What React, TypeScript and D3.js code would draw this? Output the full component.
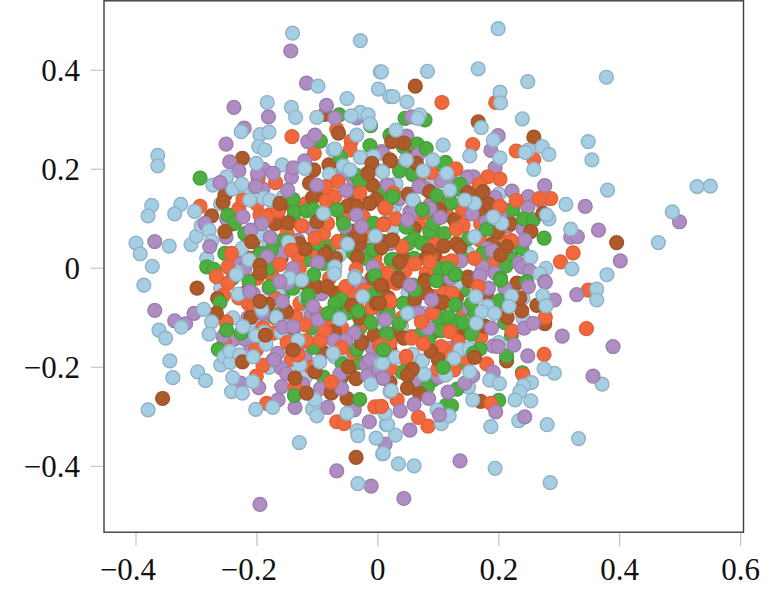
import React from "react";
import * as d3 from "d3";

const xTicks = [-0.4, -0.2, 0, 0.2, 0.4, 0.6];
const yTicks = [-0.4, -0.2, 0, 0.2, 0.4];

const blue: number[][] = [[-0.141,0.475],[-0.029,0.460],[0.004,0.397],[0.001,0.362],[-0.099,0.368],[-0.051,0.343],[-0.183,0.335],[-0.143,0.325],[-0.136,0.305],[-0.101,0.305],[-0.029,0.315],[-0.044,0.308],[-0.016,0.310],[-0.226,0.276],[-0.195,0.270],[-0.180,0.275],[-0.197,0.246],[-0.187,0.239],[-0.364,0.228],[-0.364,0.207],[-0.201,0.212],[-0.158,0.209],[-0.250,0.185],[-0.273,0.168],[-0.240,0.160],[-0.225,0.170],[-0.374,0.127],[-0.380,0.106],[-0.326,0.129],[-0.336,0.110],[-0.303,0.115],[-0.400,0.051],[-0.393,0.029],[-0.345,0.045],[-0.309,0.048],[-0.300,0.065],[-0.292,0.086],[-0.279,0.077],[-0.275,0.055],[-0.283,0.020],[-0.373,0.004],[-0.192,0.069],[-0.189,0.142],[-0.212,0.138],[-0.179,0.138],[-0.213,0.017],[-0.234,-0.007],[-0.148,0.053],[-0.072,-0.007],[-0.071,0.003],[-0.050,0.049],[-0.004,0.065],[0.007,0.197],[-0.007,0.226],[-0.029,0.224],[-0.071,0.241],[-0.121,0.202],[-0.057,0.207],[-0.046,0.199],[-0.035,0.269],[-0.013,0.292],[0.020,0.347],[-0.090,0.111],[-0.038,-0.017],
[0.199,0.484],[0.082,0.398],[0.006,0.397],[0.166,0.403],[0.248,0.377],[0.378,0.386],[0.025,0.347],[0.048,0.336],[0.069,0.310],[0.066,0.303],[0.202,0.356],[0.203,0.334],[0.171,0.284],[0.239,0.302],[0.030,0.279],[0.191,0.259],[0.108,0.249],[0.152,0.227],[0.202,0.223],[0.249,0.239],[0.244,0.234],[0.272,0.246],[0.283,0.230],[0.348,0.256],[0.354,0.219],[0.258,0.200],[0.380,0.158],[0.311,0.129],[0.487,0.114],[0.464,0.052],[0.319,0.079],[0.283,0.100],[0.279,0.108],[0.253,0.022],[0.278,0.000],[0.268,-0.011],[0.321,-0.001],[0.379,-0.013],[0.205,0.091],[0.191,0.104],[0.160,0.064],[0.160,0.131],[0.119,0.158],[0.144,0.138],[0.114,0.192],[0.091,0.219],[0.075,0.197],[0.047,0.219],[0.008,0.195],[0.058,0.138],[0.528,0.165],[0.550,0.166],
[-0.387,-0.034],[-0.362,-0.125],[-0.351,-0.141],[-0.325,-0.119],[-0.344,-0.187],[-0.339,-0.221],[-0.298,-0.209],[-0.285,-0.227],[-0.380,-0.286],[-0.288,-0.083],[-0.275,-0.108],[-0.279,-0.133],[-0.260,-0.195],[-0.254,-0.179],[-0.244,-0.190],[-0.245,-0.168],[-0.228,-0.175],[-0.240,-0.221],[-0.242,-0.249],[-0.224,-0.252],[-0.207,-0.229],[-0.202,-0.285],[-0.174,-0.281],[-0.130,-0.352],[-0.108,-0.284],[-0.101,-0.298],[-0.104,-0.266],[-0.051,-0.293],[-0.034,-0.328],[-0.033,-0.338],[-0.033,-0.435],[-0.003,-0.343],[0.008,-0.375],[0.012,-0.293],[0.014,-0.316],[-0.129,-0.195],[-0.096,-0.189],[-0.188,-0.129],[-0.202,-0.136],[-0.185,-0.153],[-0.223,-0.118],[-0.206,-0.179],[-0.132,-0.145],[-0.168,-0.099],[-0.231,-0.052],[-0.234,-0.013],[-0.146,-0.020],[-0.126,-0.024],[-0.072,-0.011],[-0.038,-0.020],[-0.063,-0.102],[-0.192,-0.083],[-0.074,-0.172],[-0.011,-0.234],[0.005,-0.192],[-0.025,-0.057],[0.020,-0.249],
[0.362,-0.042],[0.362,-0.064],[0.292,-0.212],[0.275,-0.203],[0.371,-0.234],[0.253,-0.268],[0.254,-0.231],[0.241,-0.237],[0.235,-0.249],[0.227,-0.266],[0.233,-0.308],[0.280,-0.316],[0.187,-0.320],[0.332,-0.344],[0.194,-0.404],[0.285,-0.433],[0.157,-0.266],[0.034,-0.395],[0.060,-0.399],[0.009,-0.374],[0.029,-0.337],[0.016,-0.316],[0.012,-0.293],[0.022,-0.247],[0.105,-0.314],[0.118,-0.298],[0.098,-0.286],[0.077,-0.214],[0.058,-0.174],[0.074,-0.187],[0.029,-0.180],[0.008,-0.192],[0.136,-0.164],[0.151,-0.162],[0.126,-0.182],[0.112,-0.216],[0.185,-0.226],[0.201,-0.233],[0.152,-0.209],[0.273,-0.055],[0.278,-0.076],[0.221,-0.056],[0.217,-0.077],[0.181,-0.077],[0.172,-0.088],[0.193,-0.091],[0.162,-0.057],[0.163,-0.111],[0.049,-0.091]];

const purple: number[][] = [[-0.144,0.439],[-0.118,0.374],[-0.238,0.325],[-0.181,0.306],[-0.085,0.329],[-0.071,0.304],[-0.035,0.304],[-0.221,0.283],[-0.251,0.251],[-0.116,0.256],[-0.104,0.269],[-0.245,0.215],[-0.230,0.197],[-0.189,0.200],[-0.199,0.191],[-0.173,0.192],[-0.143,0.184],[-0.140,0.203],[-0.121,0.217],[-0.261,0.173],[-0.202,0.165],[-0.149,0.158],[-0.101,0.168],[-0.052,0.157],[0.009,0.232],[-0.223,0.104],[-0.286,0.091],[-0.369,0.054],[-0.251,0.063],[-0.278,0.044],[-0.192,0.090],[-0.210,0.077],[-0.178,0.063],[-0.183,0.024],[-0.140,0.000],[-0.099,0.012],[-0.035,0.108],[-0.055,0.084],[-0.027,0.084],[-0.008,0.003],
[0.056,0.306],[0.048,0.267],[0.199,0.268],[0.187,0.238],[0.194,0.203],[0.067,0.230],[0.036,0.205],[0.105,0.177],[0.158,0.185],[0.147,0.182],[0.068,0.166],[0.017,0.168],[0.276,0.167],[0.222,0.156],[0.194,0.143],[0.249,0.145],[0.270,0.135],[0.248,0.123],[0.211,0.118],[0.156,0.110],[0.179,0.094],[0.343,0.125],[0.365,0.077],[0.499,0.094],[0.319,0.063],[0.330,0.064],[0.401,0.015],[0.243,0.057],[0.234,0.010],[0.238,0.003],[0.251,-0.005],[0.276,-0.027],[0.189,0.036],[0.137,0.015],[0.169,-0.013],[0.173,0.003],[0.194,-0.010],[0.103,0.103],[0.056,0.111],[0.049,0.098],[0.086,0.121],
[-0.369,-0.085],[-0.336,-0.106],[-0.318,-0.112],[-0.304,-0.091],[-0.237,-0.143],[-0.220,-0.143],[-0.256,-0.138],[-0.227,-0.232],[-0.197,-0.241],[-0.166,-0.172],[-0.160,-0.201],[-0.151,-0.213],[-0.159,-0.239],[-0.124,-0.234],[-0.095,-0.243],[-0.165,-0.266],[-0.137,-0.281],[-0.083,-0.281],[-0.039,-0.286],[-0.014,-0.310],[-0.068,-0.409],[-0.011,-0.440],[-0.195,-0.477],[0.012,-0.355],[-0.063,-0.214],[-0.060,-0.243],[-0.019,-0.195],[-0.017,-0.217],[-0.013,-0.185],[0.001,-0.205],[0.008,-0.222],[-0.039,-0.131],[-0.072,-0.146],[-0.053,-0.146],[-0.099,-0.104],[-0.157,-0.119],[-0.158,-0.067],[-0.190,-0.091],[-0.212,-0.047],[-0.162,-0.027],[-0.107,-0.077],[-0.140,-0.118],[-0.171,-0.185],
[0.329,-0.053],[0.292,-0.064],[0.277,-0.028],[0.249,-0.037],[0.305,-0.137],[0.389,-0.158],[0.356,-0.218],[0.243,-0.300],[0.248,-0.177],[0.225,-0.155],[0.191,-0.157],[0.199,-0.158],[0.191,-0.210],[0.157,-0.217],[0.144,-0.232],[0.116,-0.250],[0.084,-0.263],[0.060,-0.275],[0.037,-0.288],[0.053,-0.327],[0.136,-0.389],[0.043,-0.465],[0.195,-0.290],[0.102,-0.296],[0.083,-0.121],[0.067,-0.090],[0.009,-0.222],[0.242,-0.121],[0.257,-0.111],[0.188,-0.121],[0.169,-0.015],[0.183,-0.040],[0.089,-0.064],[0.053,-0.034],[0.012,-0.104]];

const orange: number[][] = [[-0.142,0.266],[-0.068,0.281],[-0.044,0.257],[-0.046,0.239],[-0.105,0.232],[-0.169,0.173],[-0.198,0.182],[-0.085,0.165],[-0.066,0.175],[-0.030,0.152],[-0.085,0.136],[-0.071,0.145],[-0.223,0.138],[-0.294,0.125],[-0.165,0.116],[-0.184,0.104],[-0.126,0.086],[-0.083,0.091],[-0.104,0.061],[0.012,0.121],[0.009,0.088],[-0.066,0.054],[-0.242,0.030],[-0.162,0.008],[-0.143,0.037],[-0.267,-0.017],[-0.248,0.003],[-0.036,-0.002],[0.014,-0.013],
[0.106,0.335],[0.195,0.335],[0.157,0.250],[0.229,0.237],[0.258,0.220],[0.202,0.180],[0.182,0.185],[0.168,0.170],[0.129,0.201],[0.088,0.194],[0.026,0.152],[0.013,0.123],[0.079,0.112],[0.141,0.086],[0.130,0.079],[0.040,0.044],[0.286,0.141],[0.267,0.141],[0.229,0.137],[0.202,0.125],[0.323,0.031],[0.302,0.013],[0.221,0.056],[0.122,0.015],[0.061,0.009],[0.086,0.013],[0.017,-0.010],[0.160,0.020],
[-0.248,-0.030],[-0.255,-0.054],[-0.251,-0.108],[-0.254,-0.150],[-0.214,-0.072],[-0.205,-0.077],[-0.202,-0.165],[-0.190,-0.196],[-0.201,-0.218],[-0.184,-0.273],[-0.068,-0.310],[-0.056,-0.314],[0.001,-0.280],[-0.005,-0.280],[-0.137,-0.240],[-0.121,-0.114],[-0.119,-0.146],[-0.095,-0.145],[-0.077,-0.230],[-0.136,-0.098],[-0.132,-0.175],[-0.088,-0.125],[-0.053,-0.037],[-0.022,-0.045],[0.017,-0.202],[0.003,-0.157],[-0.060,-0.160],
[0.348,-0.044],[0.345,-0.122],[0.275,-0.174],[0.180,-0.193],[0.240,-0.215],[0.187,-0.273],[0.222,-0.127],[0.277,-0.099],[0.210,-0.091],[0.126,-0.205],[0.099,-0.204],[0.021,-0.202],[0.032,-0.266],[0.067,-0.301],[0.083,-0.319],[0.006,-0.279],[0.123,-0.050],[0.133,-0.148],[0.105,-0.158],[0.147,-0.184],[0.047,-0.178],[0.020,-0.067],[0.119,-0.128],[0.072,-0.108],[0.006,-0.155],[0.166,-0.037],[0.056,-0.141],[0.075,-0.152]];

const green: number[][] = [[-0.294,0.182],[-0.064,0.310],[-0.012,0.288],[-0.013,0.248],[-0.095,0.257],[-0.062,0.224],[-0.037,0.189],[-0.030,0.176],[0.020,0.269],[-0.140,0.139],[-0.138,0.114],[-0.118,0.116],[-0.107,0.119],[-0.248,0.108],[-0.237,0.092],[-0.068,0.118],[-0.007,0.091],[-0.008,0.037],[0.022,0.017],[-0.151,0.057],[-0.176,0.037],[-0.194,0.030],[-0.253,0.030],[-0.283,0.003],[-0.271,-0.002],[-0.213,-0.027],[-0.106,-0.013],[-0.057,0.091],
[0.045,0.303],[0.078,0.300],[0.025,0.269],[0.065,0.251],[0.080,0.242],[0.042,0.246],[0.036,0.197],[0.058,0.192],[0.105,0.209],[0.112,0.214],[0.129,0.160],[0.136,0.170],[0.098,0.147],[0.121,0.132],[0.223,0.119],[0.241,0.100],[0.257,0.098],[0.275,0.061],[0.238,0.040],[0.212,0.005],[0.173,0.030],[0.072,0.051],[0.086,0.074],[0.047,0.083],[0.180,0.079],[0.092,0.091],[0.025,0.018],[0.032,0.008],[0.116,0.000],[0.129,-0.013],[0.203,-0.020],[0.246,-0.027],[0.025,0.145],[0.074,0.118],
[-0.264,-0.164],[-0.261,-0.069],[-0.179,-0.037],[-0.226,-0.131],[-0.250,-0.125],[-0.115,-0.065],[-0.115,-0.054],[-0.060,-0.063],[-0.071,-0.071],[-0.035,-0.164],[-0.107,-0.160],[-0.059,-0.193],[-0.030,-0.265],[-0.138,-0.257],[-0.011,-0.110],[-0.033,-0.087],[-0.068,-0.094],[0.014,-0.091],[0.014,-0.131],[-0.005,-0.015],[-0.011,-0.056],[-0.082,-0.091],
[0.239,-0.211],[0.200,-0.267],[0.113,-0.277],[0.122,-0.278],[0.131,-0.244],[0.082,-0.240],[0.213,-0.177],[0.221,-0.135],[0.155,-0.133],[0.127,-0.106],[0.116,-0.098],[0.141,-0.110],[0.104,-0.126],[0.083,-0.144],[0.069,-0.135],[0.035,-0.112],[0.017,-0.090],[0.015,-0.133],[0.042,-0.071],[0.061,-0.044],[0.097,-0.025],[0.128,-0.013],[0.128,-0.074],[0.155,-0.071],[0.202,-0.065],[0.203,-0.024],[0.169,-0.163],[0.158,-0.172],[0.108,-0.200],[0.009,-0.165]];

const brown: number[][] = [[-0.224,0.222],[-0.088,0.311],[-0.065,0.273],[-0.106,0.199],[-0.009,0.168],[-0.253,0.148],[-0.256,0.133],[-0.275,0.106],[-0.108,0.143],[-0.003,0.139],[-0.014,0.131],[-0.050,0.126],[-0.035,0.125],[-0.148,0.092],[-0.040,0.075],[-0.030,0.064],[0.010,0.054],[0.006,0.042],[-0.034,0.022],[-0.087,0.028],[-0.120,0.039],[-0.209,0.054],[-0.195,0.006],[-0.253,0.074],[-0.195,-0.010],[-0.162,0.131],[-0.101,0.094],[-0.010,0.212],[0.020,0.219],[-0.016,0.192],
[0.062,0.368],[0.166,0.296],[0.258,0.265],[0.021,0.217],[0.043,0.253],[0.023,0.256],[0.086,0.155],[0.064,0.212],[0.149,0.153],[0.183,0.130],[0.102,0.118],[0.174,0.155],[0.197,0.073],[0.253,0.074],[0.273,0.111],[0.395,0.052],[0.136,0.042],[0.109,0.045],[0.084,0.036],[0.080,0.020],[0.213,0.044],[0.203,0.027],[0.023,0.057],[0.036,0.013],[0.034,-0.020],[0.078,-0.024],[0.149,-0.018],
[-0.299,-0.040],[-0.265,-0.061],[-0.267,-0.091],[-0.356,-0.263],[-0.210,-0.099],[-0.181,-0.073],[-0.224,-0.189],[-0.104,-0.209],[-0.036,-0.223],[-0.051,-0.263],[-0.036,-0.382],[-0.077,-0.250],[-0.072,-0.128],[-0.006,-0.135],[-0.043,-0.075],[-0.084,-0.037],[-0.151,-0.088],[-0.027,-0.151],[-0.049,-0.199],[-0.140,-0.165],[-0.137,-0.222],[-0.118,-0.252],[-0.002,-0.071],[-0.186,-0.135],[-0.195,-0.067],
[0.213,-0.187],[0.170,-0.269],[0.049,-0.242],[0.069,-0.253],[0.276,-0.112],[0.263,-0.075],[0.238,-0.086],[0.214,-0.099],[0.235,-0.060],[0.177,-0.117],[0.151,-0.025],[0.078,-0.028],[0.034,-0.025],[0.017,-0.059],[0.061,-0.062],[0.098,-0.067],[0.108,-0.069],[0.043,-0.141],[0.088,-0.168],[0.057,-0.204],[0.049,-0.216],[0.100,-0.184],[0.160,-0.180],[0.005,-0.034],[0.003,-0.071]];

// Points partly or fully hidden in the dense middle of the cloud: drawn first.
const blueUnder: number[][] = [[-0.088,0.114],[-0.156,0.145],[-0.063,0.027],[-0.049,0.050],[-0.009,0.064],[-0.071,0.007],[-0.074,0.239],[0.028,0.125],[0.022,0.111],[0.047,0.219],[0.075,0.195],[0.160,0.128],[0.122,0.158],[0.144,0.145],[0.025,0.081],[0.149,0.030],[0.191,0.108],[-0.115,-0.094],[-0.146,-0.017],[-0.206,-0.131],[-0.071,-0.179],[-0.190,-0.087],[-0.193,-0.111],[-0.110,-0.071],[-0.157,-0.101],[0.039,-0.118],[0.075,-0.091],[0.011,-0.199],[-0.238,0.090],[-0.225,0.040],[-0.165,-0.050],[-0.100,-0.130],[0.130,-0.030],[0.220,0.030],[0.240,-0.100],[0.150,-0.240],
[-0.26,0.13],[-0.22,0.15],[-0.18,0.05],[-0.08,0.19],[-0.02,0.19],[0.03,0.17],[0.09,0.17],[0.20,0.15],[0.22,0.05],[-0.26,-0.04],[-0.20,-0.07],[-0.24,-0.10],[-0.12,-0.06],[-0.16,-0.13],[-0.18,-0.20],[-0.12,-0.22],[-0.06,-0.18],[0.00,-0.12],[0.10,-0.16],[0.16,-0.17],[0.20,-0.15],[0.24,-0.06],[0.05,-0.05]];
const purpleUnder: number[][] = [[-0.193,0.091],[-0.179,0.061],[-0.132,0.057],[-0.035,0.108],[-0.019,0.037],[-0.041,0.037],[-0.184,0.027],[-0.101,0.010],[0.014,0.168],[0.050,0.098],[0.053,0.114],[0.036,0.141],[0.105,0.104],[0.086,0.128],[0.174,0.094],[0.149,0.185],[0.006,0.236],[0.188,0.030],[-0.162,-0.030],[-0.206,-0.051],[-0.140,-0.131],[-0.173,-0.185],[-0.093,-0.051],[-0.110,-0.094],[-0.129,-0.152],[-0.077,-0.091],[-0.046,-0.060],[-0.005,-0.185],[0.050,-0.034],[0.009,-0.091],[0.185,-0.071],[0.180,-0.044],[0.119,-0.162],[-0.230,0.010],[-0.215,-0.100],[0.215,0.085],[0.150,-0.080],[-0.060,0.190],
[-0.25,0.10],[-0.19,0.16],[-0.16,0.03],[-0.11,0.08],[-0.04,0.18],[0.02,0.05],[0.08,0.16],[0.12,0.18],[0.18,0.04],[0.24,0.08],[-0.22,0.00],[-0.18,-0.04],[-0.15,-0.03],[-0.08,-0.14],[-0.03,-0.03],[0.06,-0.07],[0.12,-0.02],[0.21,-0.04],[-0.21,-0.16],[-0.12,-0.18],[-0.01,-0.16],[0.06,-0.23],[0.10,-0.22]];
const orangeUnder: number[][] = [[-0.157,0.091],[-0.126,0.086],[-0.103,0.061],[-0.066,0.054],[-0.085,0.091],[-0.143,0.037],[-0.132,0.024],[-0.163,0.009],[-0.195,0.108],[-0.179,0.108],[-0.165,0.114],[-0.024,0.104],[-0.044,0.155],[-0.013,0.131],[0.011,0.125],[0.067,0.091],[0.114,0.108],[0.130,0.084],[0.091,0.088],[0.094,0.057],[0.111,0.010],[0.086,0.024],[0.169,0.057],[0.205,0.104],[0.042,0.024],[-0.052,-0.037],[-0.137,-0.098],[-0.088,-0.128],[-0.129,-0.071],[-0.143,-0.185],[-0.060,-0.151],[-0.085,-0.118],[-0.201,-0.165],[-0.173,-0.131],[-0.035,-0.071],[0.020,-0.071],[0.108,-0.125],[0.056,-0.138],[0.045,-0.182],[0.141,-0.084],[0.094,-0.057],[0.075,-0.111],[0.067,-0.044],[-0.215,0.060],[-0.230,-0.060],[-0.005,0.020],[0.070,0.170],[0.180,-0.120],[0.045,-0.005],[-0.020,-0.110],[-0.175,-0.015],[-0.100,0.030],[0.200,0.000],[0.150,0.110],
[-0.23,0.12],[-0.20,0.13],[-0.15,0.07],[-0.12,0.13],[-0.09,0.07],[-0.05,0.11],[-0.02,0.07],[0.03,0.10],[0.06,0.13],[0.10,0.14],[0.14,0.12],[0.17,0.09],[0.20,0.07],[-0.20,-0.02],[-0.17,-0.06],[-0.13,0.00],[-0.08,-0.02],[-0.04,-0.05],[0.00,0.00],[0.03,-0.03],[0.08,-0.01],[0.11,-0.05],[0.15,-0.02],[0.19,0.01],[-0.19,-0.12],[-0.15,-0.15],[-0.10,-0.09],[-0.06,-0.12],[-0.01,-0.08],[0.04,-0.10],[0.09,-0.09],[0.13,-0.11],[0.17,-0.14],[-0.11,-0.20],[-0.04,-0.17],[0.02,-0.15],[0.07,-0.19],[0.12,-0.17]];
const greenUnder: number[][] = [[-0.157,0.057],[-0.195,0.030],[-0.176,0.040],[-0.118,0.017],[-0.080,0.044],[-0.066,0.118],[0.058,0.189],[0.072,0.118],[0.003,0.152],[0.207,0.118],[-0.107,-0.158],[-0.157,-0.054],[-0.212,-0.027],[-0.019,-0.091],[-0.030,-0.121],[0.114,-0.024],[0.058,-0.034],[0.092,-0.225],[0.163,-0.165],[0.141,-0.044],[0.006,-0.125],[-0.040,0.030],[0.000,-0.040],[0.050,0.050],[0.150,0.060],[-0.030,-0.190],[0.100,0.000],[-0.140,-0.040],
[-0.22,0.07],[-0.14,0.10],[-0.10,0.05],[-0.05,0.07],[0.02,0.14],[0.06,0.06],[0.11,0.07],[0.15,0.15],[0.19,0.13],[-0.24,-0.02],[-0.18,0.00],[-0.09,0.01],[-0.02,0.02],[0.06,0.02],[0.14,0.02],[0.22,0.02],[-0.16,-0.09],[-0.11,-0.12],[-0.05,-0.09],[0.01,-0.06],[0.10,-0.10],[0.16,-0.09],[0.21,-0.11],[-0.09,-0.22],[0.04,-0.21],[0.14,-0.19]];
const brownUnder: number[][] = [[-0.159,0.128],[-0.099,0.092],[-0.057,0.101],[-0.016,0.192],[-0.081,0.209],[-0.113,0.172],[-0.088,0.034],[-0.121,0.039],[-0.206,0.054],[-0.195,0.007],[0,0.037],[0.058,0.226],[0.174,0.131],[0.169,0.155],[0.127,0.098],[0.094,0.027],[0.025,0.057],[-0.141,-0.168],[-0.115,-0.205],[-0.063,-0.077],[-0.209,-0.098],[-0.154,-0.084],[-0.027,-0.148],[-0.046,-0.199],[-0.101,-0.037],[-0.077,-0.252],[0.105,-0.024],[0.009,-0.037],[0.105,-0.071],[0.056,-0.205],[0.020,-0.165],[0.158,-0.178],[-0.040,0.150],[0.060,0.080],[0.130,-0.130],[-0.160,0.020],[0.190,0.050],
[-0.24,0.09],[-0.21,0.02],[-0.17,0.09],[-0.13,0.05],[-0.10,0.15],[-0.07,0.02],[-0.03,0.05],[0.01,0.09],[0.05,0.15],[0.09,0.11],[0.13,0.05],[0.17,0.12],[0.22,0.09],[-0.22,-0.05],[-0.17,-0.10],[-0.12,-0.03],[-0.07,-0.05],[-0.01,-0.02],[0.04,0.02],[0.08,-0.05],[0.13,-0.06],[0.18,-0.05],[0.23,-0.03],[-0.14,-0.12],[-0.09,-0.17],[-0.03,-0.10],[0.03,-0.13],[0.09,-0.13],[0.15,-0.13],[-0.06,-0.22],[0.02,-0.23]];

const seriesData = [blue, purple, orange, green, brown];
const underData = [blueUnder, purpleUnder, orangeUnder, greenUnder, brownUnder];
const fills = ["#a6cee3", "#af8dc3", "#f2683c", "#4daf3f", "#ae5a2a"];
const strokes = ["#8fb2c6", "#9a7fae", "#dd6239", "#479f3d", "#9f5529"];

const x = d3.scaleLinear().domain([-0.4, 0.6]).range([136, 740.6]);
const y = d3.scaleLinear().domain([-0.4, 0.4]).range([466.3, 70.3]);

const mix = (groups: number[][][]) =>
  groups
    .flatMap((pts, s) => pts.map((p, i) => ({ p, s, o: (i + 0.2 * s) / pts.length })))
    .sort((a, b) => a.o - b.o);
const merged = [...mix(underData), ...mix(seriesData)];

const font = "'Liberation Serif', serif";
const fmt = (v: number) => (v === 0 ? "0" : (v < 0 ? "\u2212" : "") + Math.abs(v).toFixed(1));

export default function App() {
  return (
    <svg width={781} height={593} style={{ position: "absolute", left: 0, top: 0, background: "#fff" }}>
      {merged.map((d, i) => (
        <circle key={i} cx={x(d.p[0])} cy={y(d.p[1])} r={6.9} fill={fills[d.s]} stroke={strokes[d.s]} strokeWidth={1.4} />
      ))}
      <rect x={104} y={0.8} width={639.5} height={531.4} fill="none" stroke="#3c3c3c" strokeWidth={1.4} />
      {xTicks.map((t) => (
        <g key={t}>
          <line x1={x(t)} x2={x(t)} y1={533} y2={546} stroke="#c4c4c4" strokeWidth={1.2} />
          <text x={x(t) - (t < 0 ? 8 : 0)} y={580} textAnchor="middle" fontFamily={font} fontSize={31} fill="#111">{fmt(t)}</text>
        </g>
      ))}
      {yTicks.map((t) => (
        <g key={t}>
          <line x1={91} x2={103} y1={y(t)} y2={y(t)} stroke="#c4c4c4" strokeWidth={1.2} />
          <text x={80} y={y(t) + 11} textAnchor="end" fontFamily={font} fontSize={31} fill="#111">{fmt(t)}</text>
        </g>
      ))}
    </svg>
  );
}
